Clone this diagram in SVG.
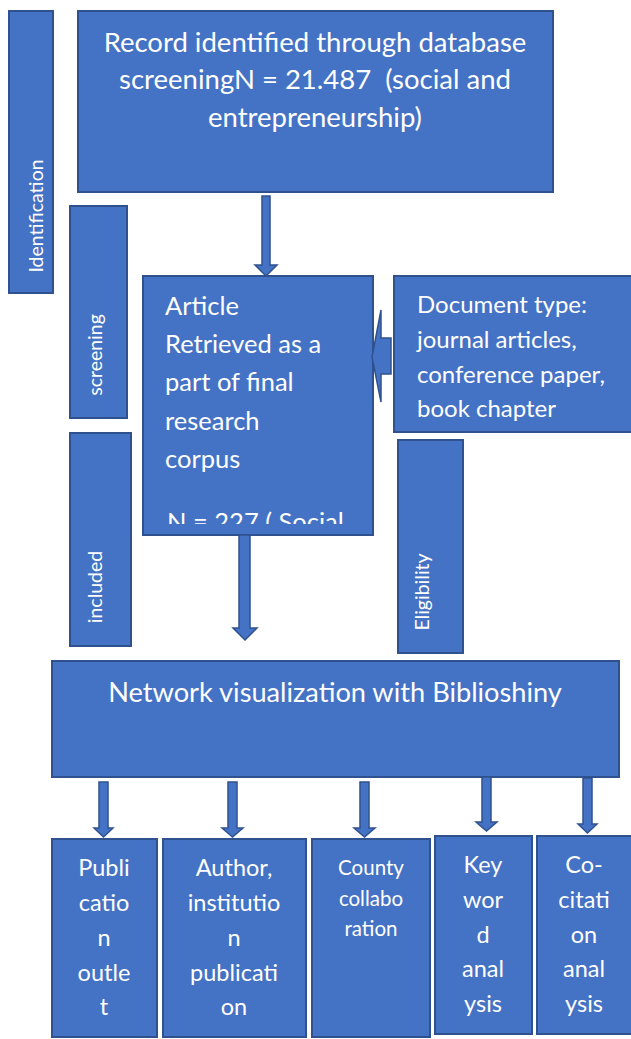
<svg xmlns="http://www.w3.org/2000/svg" width="631" height="1039" viewBox="0 0 631 1039">
<style>
.box{fill:#4472C4;stroke:#2F528F;stroke-width:2}
.arr{fill:#4472C4;stroke:#2F528F;stroke-width:1.5;stroke-linejoin:miter}
text{font-family:Lato,"Open Sans","Liberation Sans",sans-serif;fill:#ffffff}
.c{text-anchor:middle}
.lbl{font-size:19.5px;text-anchor:middle}
</style>
<defs>
<clipPath id="artClip"><rect x="143" y="276" width="230" height="248"/></clipPath>
</defs>
<rect width="631" height="1039" fill="#ffffff"/>

<g id="identification">
<rect class="box" x="9" y="11" width="44" height="282"/>
<text class="lbl" transform="translate(43,216) rotate(-90)">Identification</text>
</g>

<g id="record">
<rect class="box" x="78" y="11" width="475" height="181"/>
<text class="c" font-size="27.5" x="315" y="52">Record identified through database</text>
<text class="c" font-size="27.5" x="315" y="89" xml:space="preserve">screeningN = 21.487  (social and</text>
<text class="c" font-size="27.5" x="315" y="127">entrepreneurship)</text>
</g>

<g id="screening">
<rect class="box" x="70" y="206" width="57" height="212"/>
<text class="lbl" transform="translate(102,355) rotate(-90)">screening</text>
</g>

<g id="article">
<rect class="box" x="143" y="276" width="230" height="259"/>
<g clip-path="url(#artClip)" font-size="25.5">
<text x="165" y="315">Article</text>
<text x="165" y="353">Retrieved as a</text>
<text x="165" y="391">part of final</text>
<text x="165" y="430">research</text>
<text x="165" y="468">corpus</text>
<text x="167" y="531">N = 227 ( Social</text>
</g>
</g>

<g id="doctype">
<rect class="box" x="394" y="276" width="238" height="156"/>
<text x="417" y="313" font-size="24">Document type:</text>
<text x="417" y="348" font-size="24">journal articles,</text>
<text x="417" y="383" font-size="24">conference paper,</text>
<text x="417" y="417" font-size="24">book chapter</text>
</g>

<g id="included">
<rect class="box" x="70" y="433" width="61" height="213"/>
<text class="lbl" transform="translate(102,587) rotate(-90)">included</text>
</g>

<g id="eligibility">
<rect class="box" x="398" y="440" width="65" height="213"/>
<text class="lbl" transform="translate(429,592) rotate(-90)">Eligibility</text>
</g>

<g id="network">
<rect class="box" x="52" y="661" width="567" height="116"/>
<text class="c" font-size="27.2" x="335" y="702">Network visualization with Biblioshiny</text>
</g>

<g id="publication-outlet">
<rect class="box" x="52" y="839" width="105" height="198"/>
<g font-size="23.5" class="c">
<text x="104" y="876">Publi</text>
<text x="104" y="911">catio</text>
<text x="104" y="946">n</text>
<text x="104" y="981">outle</text>
<text x="104" y="1015">t</text>
</g>
</g>

<g id="author-institution">
<rect class="box" x="163" y="839" width="143" height="198"/>
<g font-size="23.5" class="c">
<text x="234" y="876">Author,</text>
<text x="234" y="911">institutio</text>
<text x="234" y="946">n</text>
<text x="234" y="981">publicati</text>
<text x="234" y="1015">on</text>
</g>
</g>

<g id="county-collaboration">
<rect class="box" x="312" y="839" width="118" height="198"/>
<g font-size="20.5" class="c">
<text x="371" y="875">County</text>
<text x="371" y="906">collabo</text>
<text x="371" y="936">ration</text>
</g>
</g>

<g id="keyword-analysis">
<rect class="box" x="435" y="836" width="97" height="198"/>
<g font-size="23.5" class="c">
<text x="483" y="873">Key</text>
<text x="483" y="908">wor</text>
<text x="483" y="943">d</text>
<text x="483" y="977">anal</text>
<text x="483" y="1012">ysis</text>
</g>
</g>

<g id="cocitation-analysis">
<rect class="box" x="537" y="836" width="95" height="198"/>
<g font-size="23.5" class="c">
<text x="584" y="873">Co-</text>
<text x="584" y="908">citati</text>
<text x="584" y="943">on</text>
<text x="584" y="977">anal</text>
<text x="584" y="1012">ysis</text>
</g>
</g>

<g id="connectors">
<polygon class="arr" points="262,196 270,196 270,265 277,265 266,276 255,265 262,265"/>
<polygon class="arr" points="391,338 381,338 381,310 372,357 381,402 381,374 391,374"/>
<polygon class="arr" points="239,535 250,535 250,628 257,628 245,640 233,628 239,628"/>
<polygon class="arr" points="99,782 108,782 108,828 113,828 103.5,837 94,828 99,828"/>
<polygon class="arr" points="228,782 237,782 237,828 243,828 232.5,837 222,828 228,828"/>
<polygon class="arr" points="360,782 369,782 369,828 375,828 364.5,837 354,828 360,828"/>
<polygon class="arr" points="482,777 491,777 491,822 497,822 486.5,831 476,822 482,822"/>
<polygon class="arr" points="583,778 592,778 592,824 597,824 587.5,833 578,824 583,824"/>
</g>
</svg>
